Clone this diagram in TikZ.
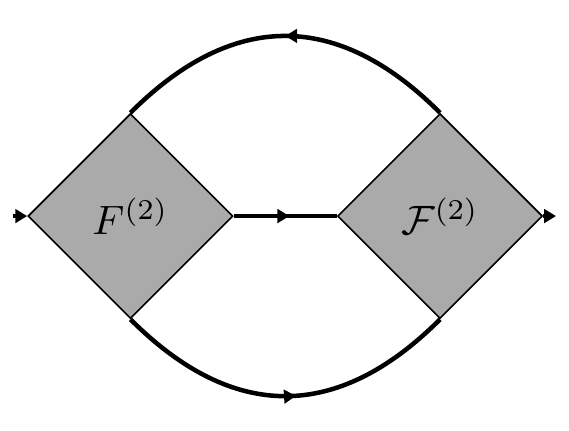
\documentclass[tikz,border=0pt]{standalone}
\usetikzlibrary{arrows.meta}
\usetikzlibrary{shapes.geometric}
\usetikzlibrary{decorations.markings}

\begin{document}
\begin{tikzpicture}[>={Triangle[length=2.9pt, width=3.3pt]},
  blob/.style={diamond, draw=black, fill=gray!67, minimum size=1.756cm, inner sep=0},
  prop/.style={black, line width=1.1pt},
  midarrow/.style={postaction={decorate}, decoration={markings, mark=at position #1 with {\arrow{>}}}}]
\useasboundingbox (-1.118,-1.834) rectangle (3.757,1.851);
\node[blob] (F) at (0,0) {$F^{(2)}$};
\node[blob] (G) at (2.652,0) {$\mathcal{F}^{(2)}$};
\coordinate (in) at (-1.01,0);
\coordinate (out) at (3.646,0);
\draw[prop, ->] (in) -- (F.west);
\draw[prop, midarrow=.54] (F.east) -- (G.west);
\draw[prop, ->] (G.east) -- (out);
\draw[prop, midarrow=.5] (G.north) to[out=135, in=45, looseness=1.2] (F.north);
\draw[prop, midarrow=.53] (F.south) to[out=-45, in=-135, looseness=1.2] (G.south);
\end{tikzpicture}
\end{document}
